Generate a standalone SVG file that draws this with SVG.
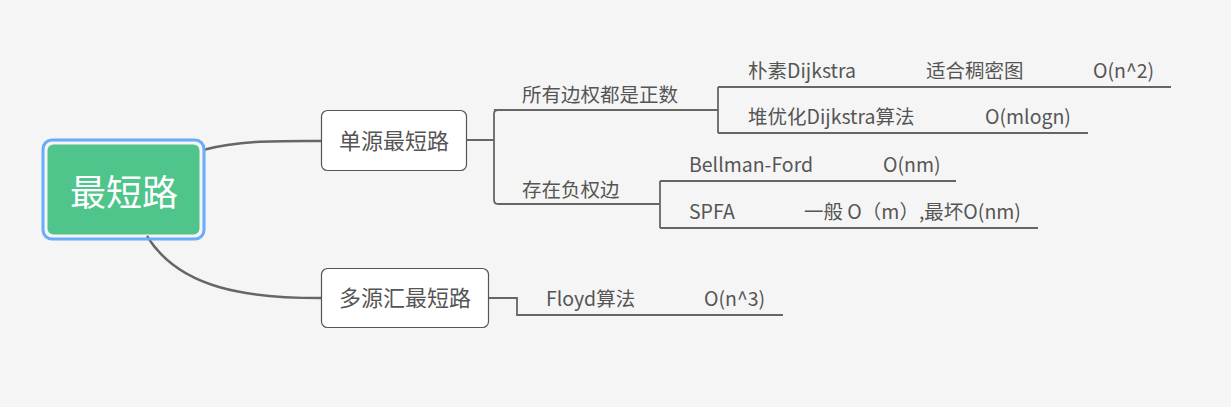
<svg xmlns="http://www.w3.org/2000/svg" width="1231" height="407" viewBox="0 0 1231 407">
<style>
.bg{fill:#f5f5f5}
.box{fill:#fff;stroke:#555;stroke-width:1.2}
.t{font-family:"Noto Sans CJK SC","Liberation Sans",sans-serif;fill:#555}
.leaf{font-size:19.5px}
.mid{font-size:22px;text-anchor:middle}
.ln{fill:none;stroke:#666;stroke-width:1.8}
.main{fill:none;stroke:#666;stroke-width:2.5}
</style>
<rect class="bg" x="0" y="0" width="1231" height="407"/>
<g id="connectors">
<path class="main" d="M203,150 C240,140 280,141 321,141"/>
<path class="main" d="M147,236 C180,290 250,298 321,298"/>
<path class="ln" d="M467,140 H494 M520,110 H498 Q494,110 494,114 V200 Q494,204 498,204 H660"/>
<path class="ln" d="M494,110 H718 M718,87 V133 M718,87 H1171 M718,133 H1088"/>
<path class="ln" d="M660,181 V228 M660,181 H956 M660,228 H1038"/>
<path class="ln" d="M489,298 H517 V315 H783"/>
</g>
<g id="root">
<rect x="43" y="140" width="161" height="99" rx="9" fill="none" stroke="#6aacf7" stroke-width="3"/>
<rect x="47.5" y="144.5" width="152" height="90" rx="6" fill="#4fc48b"/>
<text class="t" x="124" y="206" font-size="36" text-anchor="middle" fill="#fff" style="fill:#fff">最短路</text>
</g>
<g id="single">
<rect class="box" x="321.5" y="110.5" width="145" height="60" rx="6"/>
<text class="t mid" x="394" y="149">单源最短路</text>
</g>
<g id="multi">
<rect class="box" x="321.5" y="268.5" width="167" height="59" rx="6"/>
<text class="t mid" x="405" y="306">多源汇最短路</text>
</g>
<g id="positive"><text class="t leaf" x="522" y="102">所有边权都是正数</text></g>
<g id="negative"><text class="t leaf" x="522" y="197">存在负权边</text></g>
<g id="naive"><text class="t leaf" x="748" y="78">朴素Dijkstra</text><text class="t leaf" x="926" y="78">适合稠密图</text><text class="t leaf" x="1093" y="78">O(n^2)</text></g>
<g id="heap"><text class="t leaf" x="748" y="124">堆优化Dijkstra算法</text><text class="t leaf" x="985" y="124">O(mlogn)</text></g>
<g id="bellman"><text class="t leaf" x="689" y="172">Bellman-Ford</text><text class="t leaf" x="883" y="172">O(nm)</text></g>
<g id="spfa"><text class="t leaf" x="689" y="219">SPFA</text><text class="t leaf" x="804" y="219">一般 O（m）,最坏O(nm)</text></g>
<g id="floyd"><text class="t leaf" x="546" y="306">Floyd算法</text><text class="t leaf" x="704" y="306">O(n^3)</text></g>
</svg>
